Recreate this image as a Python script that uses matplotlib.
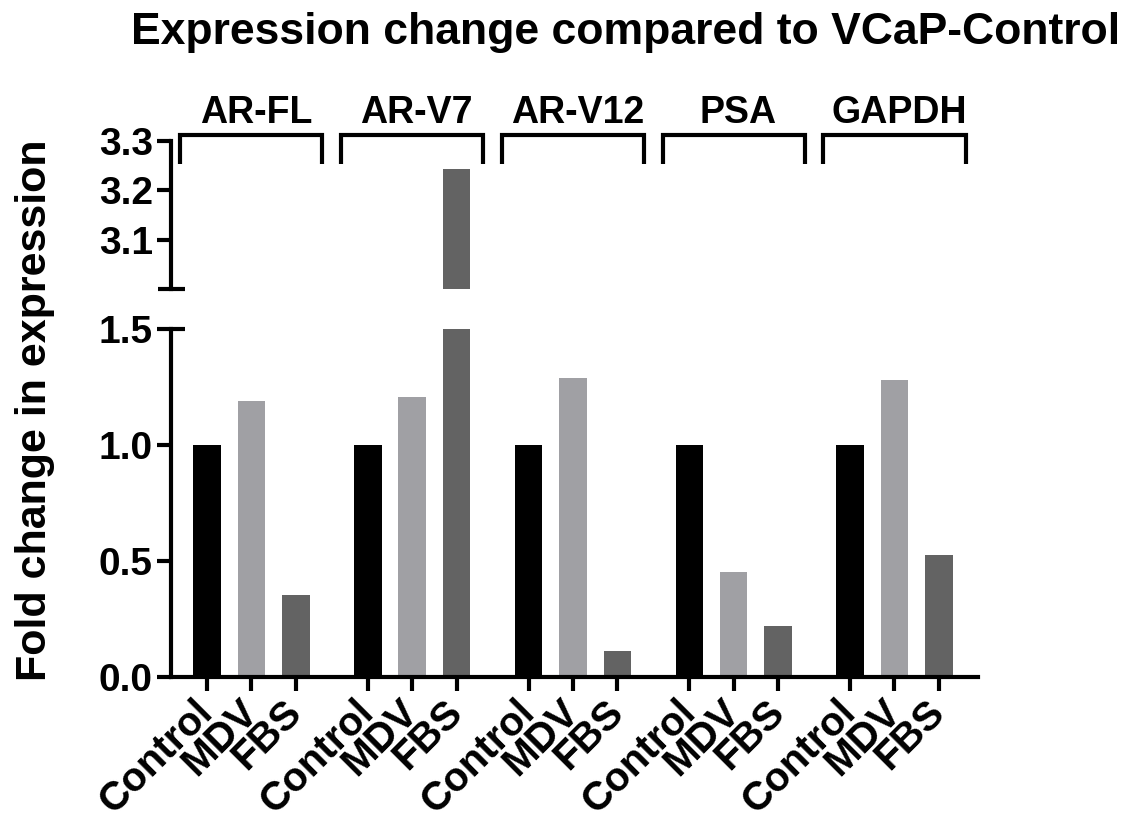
import numpy as np
import matplotlib
matplotlib.use('Agg')
import matplotlib.pyplot as plt

plt.rcParams['font.family'] = ['Liberation Sans', 'DejaVu Sans']
plt.rcParams['font.weight'] = 'bold'

# data
genes = ['AR-FL', 'AR-V7', 'AR-V12', 'PSA', 'GAPDH']
conditions = ['Control', 'MDV', 'FBS']
control = [1.0, 1.0, 1.0, 1.0, 1.0]
mdv = [1.19, 1.207, 1.289, 0.453, 1.28]
fbs = [0.353, 3.243, 0.112, 0.22, 0.526]
colors = ['#000000', '#a0a0a4', '#636363']

group_step = 3.62
bar_w = 0.62
lw = 3

fig = plt.figure(figsize=(11.28, 8.24), dpi=100)
ax_lo = fig.add_axes([0.1516, 0.1784, 0.7154, 0.4223])
ax_hi = fig.add_axes([0.1516, 0.6493, 0.7154, 0.1796])

series = [control, mdv, fbs]
xs_all = []
labels_all = []
for g in range(len(genes)):
    for i in range(3):
        x = g * group_step + i
        xs_all.append(x)
        labels_all.append(conditions[i])
        for ax in (ax_lo, ax_hi):
            ax.bar(x, series[i][g], width=bar_w, color=colors[i], zorder=2)

xmin, xmax = -0.81, 4 * group_step + 2 + 0.88
for ax in (ax_lo, ax_hi):
    ax.set_xlim(xmin, xmax)
    ax.spines['top'].set_visible(False)
    ax.spines['right'].set_visible(False)
    ax.spines['left'].set_linewidth(lw)
    ax.spines['bottom'].set_linewidth(lw)
    ax.tick_params(axis='y', length=10, width=lw, labelsize=28, pad=3)

ax_lo.set_ylim(0, 1.5)
ax_lo.set_yticks([0.0, 0.5, 1.0, 1.5])
ax_lo.set_yticklabels(['0.0', '0.5', '1.0', '1.5'])
ax_lo.set_xticks(xs_all)
ax_lo.set_xticklabels(labels_all, rotation=45, ha='right', va='center',
                      rotation_mode='anchor', fontsize=29)
ax_lo.tick_params(axis='x', length=10, width=lw, pad=11)

ax_hi.set_ylim(3.0, 3.3)
ax_hi.set_yticks([3.1, 3.2, 3.3])
ax_hi.set_yticklabels(['3.1', '3.2', '3.3'])
ax_hi.spines['bottom'].set_visible(False)
ax_hi.set_xticks([])

# axis break caps
ax_hi.plot([-0.0161, 0.0173], [0, 0], transform=ax_hi.transAxes, color='k',
           lw=lw, clip_on=False, solid_capstyle='butt')
ax_lo.plot([0, 0.0173], [1, 1], transform=ax_lo.transAxes, color='k',
           lw=lw, clip_on=False, solid_capstyle='butt')

# group brackets and labels
for g, name in enumerate(genes):
    c = g * group_step + 1
    ax_hi.plot([c - 1.6, c - 1.6, c + 1.6, c + 1.6], [3.253, 3.312, 3.312, 3.253],
               color='k', lw=lw, clip_on=False, solid_joinstyle='miter',
               solid_capstyle='butt')
    ax_hi.text(c + 0.1, 3.337, name, ha='center', va='baseline', fontsize=27,
               fontweight='bold', clip_on=False)

fig.text(0.555, 0.9466, 'Expression change compared to VCaP-Control',
         ha='center', va='baseline', fontsize=32, fontweight='bold')
fig.text(0.031, 0.5024, 'Fold change in expression', rotation=90,
         ha='center', va='center', fontsize=31, fontweight='bold')

fig.savefig('out.png', dpi=100)
